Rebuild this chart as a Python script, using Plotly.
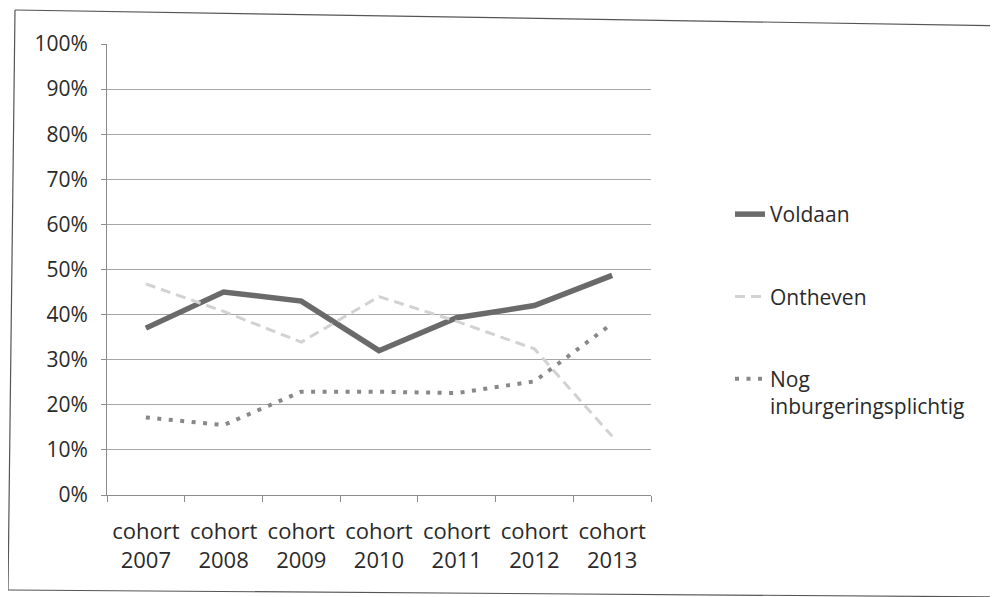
import plotly.graph_objects as go

categories = ["cohort<br>2007", "cohort<br>2008", "cohort<br>2009", "cohort<br>2010",
              "cohort<br>2011", "cohort<br>2012", "cohort<br>2013"]
voldaan = [37.0, 45.0, 43.0, 32.0, 39.3, 42.0, 48.7]
ontheven = [46.8, 40.7, 33.9, 44.0, 38.5, 32.4, 13.0]
nog = [17.2, 15.5, 22.9, 22.9, 22.6, 25.2, 38.0]
y_ticks = [0, 10, 20, 30, 40, 50, 60, 70, 80, 90, 100]
y_tick_labels = ["0%", "10%", "20%", "30%", "40%", "50%", "60%", "70%", "80%", "90%", "100%"]

W, H = 998, 597
OFF = 8  # page body margin offset
L, R, T, B = 107 - OFF, 651 - OFF, 44 - OFF, 495 - OFF
FONT = "Open Sans"

fig = go.Figure()
fig.add_trace(go.Scatter(x=categories, y=voldaan, name="Voldaan", mode="lines",
                         line=dict(color="#6a6a6a", width=5.5), legendgroup="a"))
fig.add_trace(go.Scatter(x=categories, y=ontheven, name="Ontheven", mode="lines",
                         line=dict(color="#d2d2d2", width=3, dash="10px,6px"), legendgroup="b"))
fig.add_trace(go.Scatter(x=categories, y=nog, name="Nog<br>inburgeringsplichtig", mode="lines",
                         line=dict(color="#888888", width=4, dash="4px,7.5px"), legendgroup="c"))

def px(x):
    return (x - OFF - L) / (R - L)

def py(y):
    return (B - (y - OFF)) / (B - T)

frame = [((15, 10), (1010, 26)), ((15, 10), (8, 590)), ((8, 590), (1010, 597))]
for (x0, y0), (x1, y1) in frame:
    fig.add_shape(type="line", xref="paper", yref="paper",
                  x0=px(x0), y0=py(y0), x1=px(x1), y1=py(y1),
                  line=dict(color="#555555", width=1.2))

fig.update_layout(
    width=W, height=H,
    margin=dict(l=L, r=W - R, t=T, b=H - B, autoexpand=False),
    paper_bgcolor="white", plot_bgcolor="white",
    font=dict(family=FONT, size=22, color="#2a2a2a"),
    showlegend=True,
    legend=dict(x=px(730), y=1 - 186 / H, xref="paper", yref="container",
                xanchor="left", yanchor="top", valign="top",
                tracegroupgap=52, font=dict(family=FONT, size=21, color="#2a2a2a"),
                bgcolor="rgba(0,0,0,0)"),
)
fig.update_xaxes(range=[-0.5, 6.5], showgrid=False, showline=True, linecolor="#8c8c8c",
                 linewidth=1, ticks="outside", ticklen=6, tickcolor="#8c8c8c",
                 tickson="boundaries", tickfont=dict(family=FONT, size=22, color="#2a2a2a"),
                 ticklabelstandoff=17, automargin=False)
fig.update_yaxes(range=[0, 100], tickmode="array", tickvals=y_ticks, ticktext=y_tick_labels,
                 showgrid=True, gridcolor="#a6a6a6", gridwidth=1, showline=True,
                 linecolor="#8c8c8c", linewidth=1, ticks="outside", ticklen=5,
                 tickcolor="#8c8c8c", zeroline=False,
                 tickfont=dict(family=FONT, size=21, color="#2a2a2a"),
                 ticklabelstandoff=9, automargin=False)

fig.write_html("out.html")
